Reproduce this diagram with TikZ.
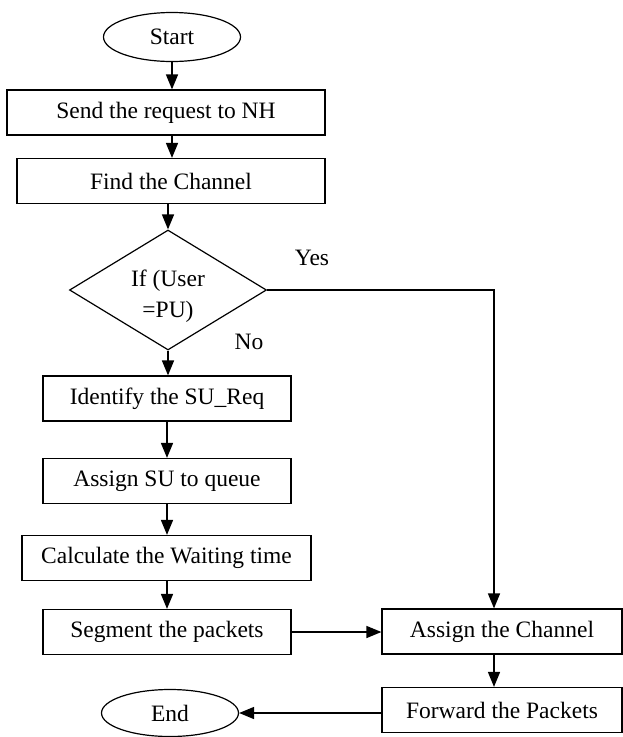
\documentclass[tikz,border=0pt]{standalone}
\usepackage{fontspec}
\setmainfont{Liberation Serif}
\usetikzlibrary{shapes.geometric,arrows.meta}

\begin{document}
\begin{tikzpicture}[x=1pt, y=-1pt,
  every node/.style={font=\fontsize{23.5}{31}\selectfont},
  box/.style={draw, line width=1.2pt, minimum height=45pt, inner sep=0pt},
  term/.style={draw, ellipse, line width=1.2pt, minimum width=137pt, minimum height=49pt, inner sep=0pt},
  decide/.style={draw, diamond, line width=1.2pt, minimum width=197pt, minimum height=120pt, inner sep=0pt},
  arr/.style={-{Triangle[length=15pt, width=12pt]}, line width=1.5pt}]
\useasboundingbox (0,0) rectangle (623,737);

\node[term] (start) at (172,37) {Start};
\node[box, minimum width=318pt] (send) at (166,112.5) {Send the request to NH};
\node[box, minimum width=308pt] (find) at (171,181) {Find the Channel};
\node[decide, label={[align=center, yshift=-6pt]center:If (User\\=PU)}] (dec) at (168,290) {};
\node[box, minimum width=248pt] (ident) at (167,398.5) {Identify the SU\_Req};
\node[box, minimum width=248pt] (asu) at (167,481) {Assign SU to queue};
\node[box, minimum width=289pt] (calc) at (166.5,558) {Calculate the Waiting time};
\node[box, minimum width=248pt] (seg) at (167,632) {Segment the packets};
\node[box, minimum width=240pt] (ach) at (502,631.5) {Assign the Channel};
\node[box, minimum width=240pt] (fwd) at (502,710) {Forward the Packets};
\node[term, minimum height=47pt] (end) at (170,713) {End};

\node (yes) at (312,258) {Yes};
\node (no) at (249,342) {No};
\coordinate (turn) at (494,290);

\draw[arr] (start.south) -- (start.south |- send.north);
\draw[arr] (start.south |- send.south) -- (start.south |- find.north);
\draw[arr] (dec.north |- find.south) -- (dec.north);
\draw[arr] (dec.south) -- (dec.south |- ident.north);
\draw[arr] (ident.south) -- (asu.north);
\draw[arr] (asu.south) -- (asu.south |- calc.north);
\draw[arr] (asu.south |- calc.south) -- (seg.north);
\draw[arr] (seg.east) -- (seg.east -| ach.west);
\draw[arr] (dec.east) -- (turn) -- (turn |- ach.north);
\draw[arr] (turn |- ach.south) -- (turn |- fwd.north);
\draw[arr] (fwd.west |- end.east) -- (end.east);
\end{tikzpicture}
\end{document}
